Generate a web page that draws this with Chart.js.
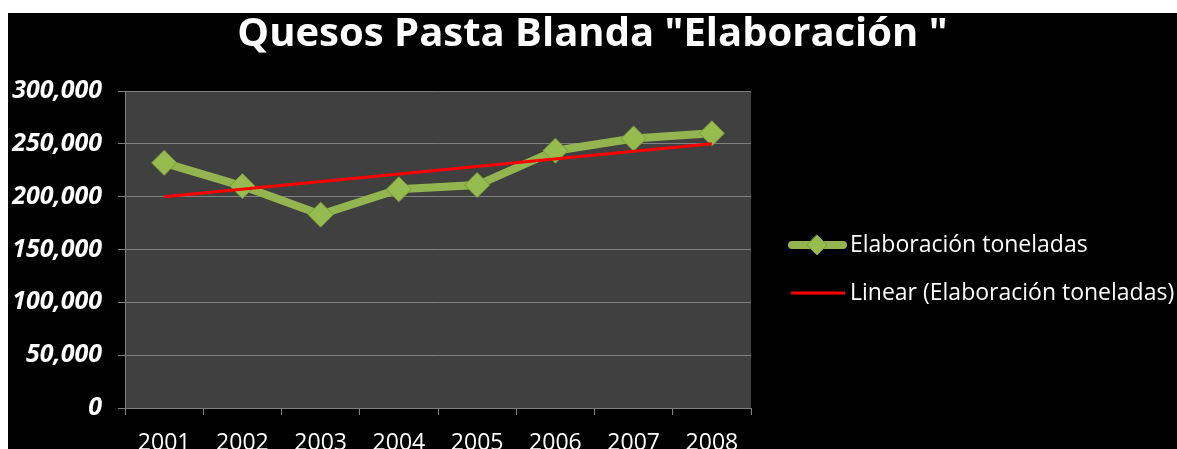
<!DOCTYPE html>
<html>
<head>
<meta charset="utf-8">
<script src="https://cdn.jsdelivr.net/npm/chart.js@4.4.0/dist/chart.umd.min.js"></script>
<style>
  html, body { margin: 0; padding: 0; background: #ffffff; }
  #wrap { position: absolute; left: 8px; top: 13px; width: 1169px; height: 436px; background: #000000; }
</style>
</head>
<body>
<div id="wrap"><canvas id="quesosChart" width="1169" height="436"></canvas></div>
<script>
// Data
const years = ['2001', '2002', '2003', '2004', '2005', '2006', '2007', '2008'];
const toneladas = [232000, 210000, 183000, 207000, 211000, 243500, 255000, 260000];
// linear trend line, only its two ends
const trendEnds = [200000, null, null, null, null, null, null, 250000];
const yTicks = [0, 50000, 100000, 150000, 200000, 250000, 300000];

const FONT = "'Open Sans', 'DejaVu Sans', sans-serif";

// dark grey plot background
const plotBg = {
    id: 'plotBg',
    beforeDraw(chart) {
        const a = chart.chartArea, ctx = chart.ctx;
        ctx.save();
        ctx.fillStyle = '#404040';
        ctx.fillRect(a.left, a.top, a.right - a.left, a.bottom - a.top);
        ctx.restore();
    }
};

// legend on the right, line + marker like the original
const sideLegend = {
    id: 'sideLegend',
    afterDraw(chart) {
        const ctx = chart.ctx;
        const ds = chart.data.datasets;
        ctx.save();
        ctx.font = '23px ' + FONT;
        ctx.textBaseline = 'middle';
        ctx.textAlign = 'left';
        // green series
        let y = 232;
        ctx.strokeStyle = '#92b550';
        ctx.lineWidth = 8;
        ctx.lineCap = 'round';
        ctx.beginPath(); ctx.moveTo(784, y); ctx.lineTo(835, y); ctx.stroke();
        ctx.fillStyle = '#96bc4f';
        ctx.strokeStyle = '#7b9b3a';
        ctx.lineWidth = 1;
        ctx.beginPath();
        ctx.moveTo(809, y - 10); ctx.lineTo(819, y); ctx.lineTo(809, y + 10); ctx.lineTo(799, y);
        ctx.closePath(); ctx.fill(); ctx.stroke();
        ctx.fillStyle = '#ffffff';
        ctx.fillText(ds[1].label, 842, y);
        // trend
        y = 280;
        ctx.strokeStyle = '#ff0000';
        ctx.lineWidth = 3;
        ctx.lineCap = 'butt';
        ctx.beginPath(); ctx.moveTo(783, y); ctx.lineTo(837, y); ctx.stroke();
        ctx.fillText(ds[0].label, 842, y);
        ctx.restore();
    }
};

const ctx = document.getElementById('quesosChart').getContext('2d');
new Chart(ctx, {
    type: 'line',
    data: {
        labels: years,
        datasets: [{
            label: 'Linear (Elaboración toneladas)',
            data: trendEnds,
            borderColor: '#ff0000',
            borderWidth: 3,
            pointRadius: 0,
            spanGaps: true,
            order: 0
        }, {
            label: 'Elaboración toneladas',
            data: toneladas,
            borderColor: '#92b550',
            borderWidth: 8,
            pointStyle: 'rectRot',
            pointRadius: 12.5,
            pointBackgroundColor: '#96bc4f',
            pointBorderColor: '#7b9b3a',
            pointBorderWidth: 1,
            order: 1
        }]
    },
    options: {
        responsive: false,
        animation: false,
        layout: { padding: 0 },
        plugins: {
            legend: { display: false },
            tooltip: { enabled: false },
            title: {
                display: true,
                text: 'Quesos Pasta Blanda "Elaboración "',
                color: '#ffffff',
                font: { family: FONT, size: 40, weight: 'bold', lineHeight: 1 },
                padding: { top: 2, bottom: 36 }
            }
        },
        scales: {
            x: {
                offset: true,
                grid: { offset: true, drawOnChartArea: false, color: '#808080', tickLength: 7 },
                border: { color: '#808080' },
                ticks: { color: '#ffffff', font: { family: FONT, size: 23 }, padding: 15, maxRotation: 0 },
                afterFit(scale) { scale.height = 41; }
            },
            y: {
                min: 0,
                max: 300000,
                afterBuildTicks(scale) { scale.ticks = yTicks.map(v => ({ value: v })); },
                grid: { color: '#808080', tickLength: 7 },
                border: { color: '#808080' },
                ticks: {
                    color: '#ffffff',
                    padding: 16,
                    font: { family: FONT, size: 25, weight: 'bold', style: 'italic' },
                    callback: v => v.toLocaleString('en-US')
                },
                afterFit(scale) { scale.width = 117; }
            },
            // empty space on the right, where the legend sits
            side: {
                position: 'right',
                grid: { display: false },
                border: { display: false },
                ticks: { display: false },
                afterFit(scale) { scale.width = 426; }
            }
        }
    },
    plugins: [plotBg, sideLegend]
});
</script>
</body>
</html>
